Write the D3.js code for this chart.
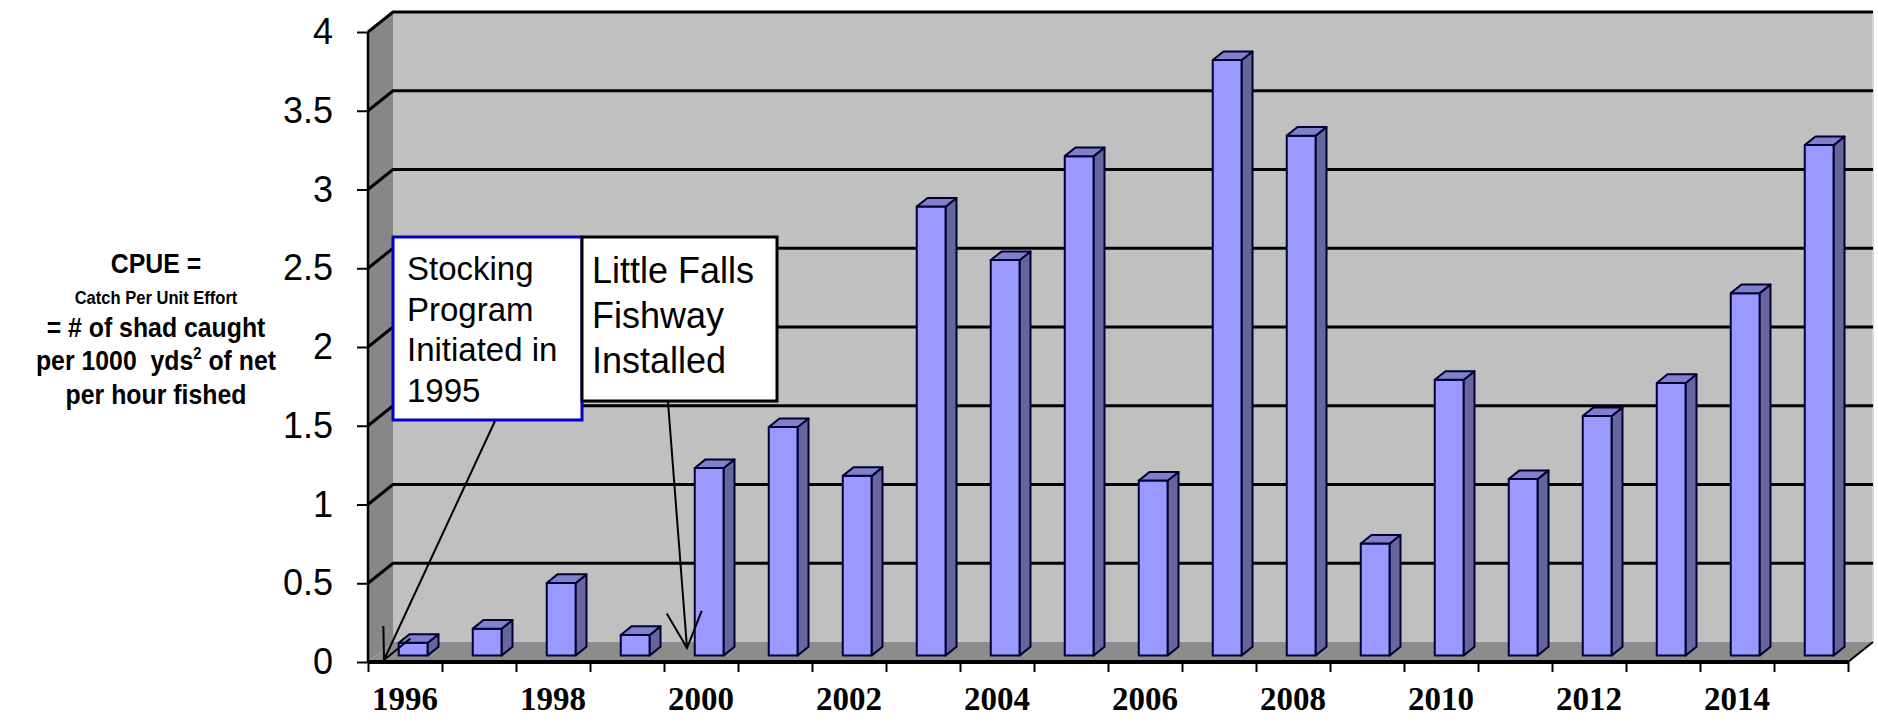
<!DOCTYPE html>
<html>
<head>
<meta charset="utf-8">
<script src="https://cdn.jsdelivr.net/npm/d3@7"></script>
<style>
body{margin:0;background:#fff;}
svg{display:block;font-family:"Liberation Sans",Arial,sans-serif;}
</style>
</head>
<body>
<svg id="chart" width="1878" height="725"></svg>
<script>
// data
var years = [1996,1997,1998,1999,2000,2001,2002,2003,2004,2005,2006,2007,2008,2009,2010,2011,2012,2013,2014,2015];
var cpue  = [0.08,0.17,0.46,0.13,1.19,1.45,1.14,2.85,2.51,3.17,1.11,3.78,3.30,0.71,1.75,1.12,1.52,1.73,2.30,3.24];
var yTicks = [0,0.5,1,1.5,2,2.5,3,3.5,4];
var yTickLabels = ["0","0.5","1","1.5","2","2.5","3","3.5","4"];
var labelYears = [1996,1998,2000,2002,2004,2006,2008,2010,2012,2014];
var noteStocking = ["Stocking","Program","Initiated in","1995"];
var noteFishway = ["Little Falls","Fishway","Installed"];

var svg = d3.select("#chart");

var x = d3.scaleBand().domain(years).range([368,1848]);
var xEdge = d3.scaleLinear().domain([0,years.length]).range([368,1848]);
var y = d3.scaleLinear().domain([0,4]).range([662,32]);
var dep = {x:25, y:-20};   // depth of the 3d box
var t1 = 0.33, t2 = 0.76;  // bar depth, front and back
var barW = 29;

function P(xf, v, t){ return [xf + t*dep.x, y(v) + t*dep.y]; }
function poly(pts){ return pts.map(function(p){return p.join(",");}).join(" "); }

// walls and floor
var x0 = x.range()[0], x1 = x.range()[1];
svg.append("polygon").attr("points", poly([P(x0,0,1),P(x1,0,1),P(x1,4,1),P(x0,4,1)]))
  .attr("fill","#c0c0c0");
svg.append("polygon").attr("points", poly([P(x0,0,0),P(x0,4,0),P(x0,4,1),P(x0,0,1)]))
  .attr("fill","#878787");
svg.append("polygon").attr("points", poly([P(x0,0,0),P(x1,0,0),P(x1,0,1),P(x0,0,1)]))
  .attr("fill","#8c8c8c");
svg.append("line").attr("x1",P(x1,0,1)[0]).attr("y1",P(x1,0,1)[1])
  .attr("x2",P(x1,4,1)[0]).attr("y2",P(x1,4,1)[1]).attr("stroke","#d8d8d8").attr("stroke-width",2);

// gridlines on back wall + left wall
var grid = svg.append("g").attr("stroke","#000").attr("stroke-width",3).attr("fill","none");
yTicks.filter(function(v){return v>0;}).forEach(function(v){
  grid.append("polyline").attr("points", poly([P(x0,v,0),P(x0,v,1),P(x1,v,1)]));
});

// front y axis line
svg.append("line").attr("x1",x0).attr("x2",x0).attr("y1",y(4)).attr("y2",y(0))
  .attr("stroke","#000").attr("stroke-width",2.5);

// bars
var bars = svg.append("g").selectAll("g").data(years).enter().append("g")
  .attr("stroke","#000033").attr("stroke-width",2).attr("stroke-linejoin","round");
bars.each(function(d,i){
  var g = d3.select(this), v = cpue[i];
  var a = x(d) + x.bandwidth()/2 - barW/2, b = a + barW;
  g.append("polygon").attr("fill","#9999ff")
    .attr("points", poly([P(a,0,t1),P(b,0,t1),P(b,v,t1),P(a,v,t1)]));
  g.append("polygon").attr("fill","#66669c")
    .attr("points", poly([P(b,0,t1),P(b,0,t2),P(b,v,t2),P(b,v,t1)]));
  g.append("polygon").attr("fill","#8080cc")
    .attr("points", poly([P(a,v,t1),P(b,v,t1),P(b,v,t2),P(a,v,t2)]));
});

// floor front edge
svg.append("polyline").attr("points", poly([P(x0,0,0),P(x1,0,0)]))
  .attr("stroke","#000").attr("stroke-width",4).attr("fill","none");
svg.append("polyline").attr("points", poly([P(x1,0,0),P(x1,0,1)]))
  .attr("stroke","#000").attr("stroke-width",2).attr("fill","none");

// y axis
var yAxis = d3.axisLeft(y).tickValues(yTicks).tickSize(11).tickPadding(24)
  .tickFormat(function(d,i){return yTickLabels[i];});
var gy = svg.append("g").attr("transform","translate("+x0+",0)").call(yAxis);
gy.select(".domain").remove();
gy.selectAll(".tick line").attr("stroke","#000").attr("stroke-width",2);
gy.selectAll(".tick text").attr("font-size",36).attr("fill","#000")
  .attr("font-family","'Liberation Sans',Arial,sans-serif");

// x axis ticks at category edges
var xAxis = d3.axisBottom(xEdge).tickValues(d3.range(0,years.length+1)).tickSize(10).tickFormat("");
var gx = svg.append("g").attr("transform","translate(0,"+y(0)+")").call(xAxis);
gx.select(".domain").remove();
gx.selectAll(".tick line").attr("stroke","#000").attr("stroke-width",2);

svg.append("g").selectAll("text").data(labelYears).enter().append("text")
  .attr("x", function(d){return x(d)+x.bandwidth()/2;})
  .attr("y", 710)
  .attr("text-anchor","middle")
  .attr("font-family","'Liberation Serif','Times New Roman',serif")
  .attr("font-weight","bold").attr("font-size",33)
  .text(function(d){return d;});

// y axis title
var tl = svg.append("g").attr("transform","translate(156,0) scale(0.92,1)")
  .attr("text-anchor","middle").attr("font-weight","bold").attr("fill","#000");
tl.append("text").attr("y",273).attr("font-size",27).text("CPUE =");
tl.append("text").attr("y",304).attr("font-size",18).text("Catch Per Unit Effort");
tl.append("text").attr("y",337).attr("font-size",27).text("= # of shad caught");
var l4 = tl.append("text").attr("y",370).attr("font-size",27);
l4.append("tspan").text("per 1000\u00a0 yds");
l4.append("tspan").attr("font-size",16).attr("dy",-11).text("2");
l4.append("tspan").attr("dy",11).text(" of net");
tl.append("text").attr("y",404).attr("font-size",27).text("per hour fished");

// note boxes
svg.append("rect").attr("x",393).attr("y",237).attr("width",189).attr("height",183)
  .attr("fill","#fff").attr("stroke","#0000c8").attr("stroke-width",3);
svg.append("g").selectAll("text").data(noteStocking).enter().append("text")
  .attr("x",407).attr("y",function(d,i){return 280+i*40.7;})
  .attr("font-size",33).text(function(d){return d;});

svg.append("rect").attr("x",582).attr("y",237).attr("width",195).attr("height",164)
  .attr("fill","#fff").attr("stroke","#000").attr("stroke-width",3);
svg.append("g").selectAll("text").data(noteFishway).enter().append("text")
  .attr("x",592).attr("y",function(d,i){return 283+i*45;})
  .attr("font-size",36).text(function(d){return d;});

// arrows
function arrow(xa, ya, xb, yb, len){
  var ang = Math.atan2(ya-yb, xa-xb), s = 26*Math.PI/180;
  var g = svg.append("g").attr("stroke","#000").attr("stroke-width",2).attr("fill","none");
  g.append("line").attr("x1",xa).attr("y1",ya).attr("x2",xb).attr("y2",yb);
  g.append("polyline").attr("points", poly([
    [xb+len*Math.cos(ang-s), yb+len*Math.sin(ang-s)], [xb,yb],
    [xb+len*Math.cos(ang+s), yb+len*Math.sin(ang+s)]]));
}
arrow(495,421,384,660,34);
arrow(668,402,687,648,40);
</script>
</body>
</html>
